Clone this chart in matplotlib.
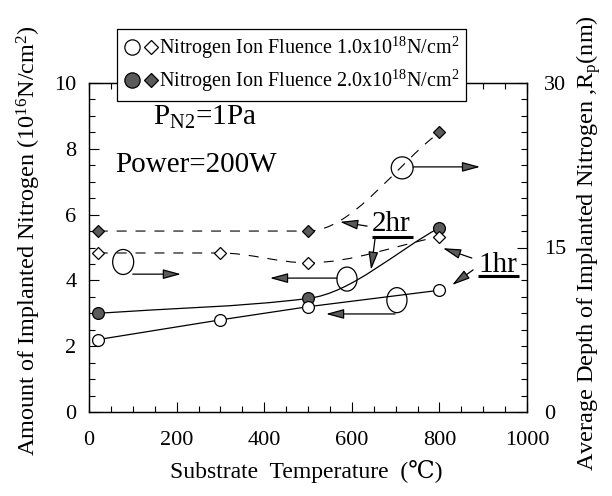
import numpy as np
import matplotlib
matplotlib.use('Agg')
import matplotlib.pyplot as plt
from matplotlib.path import Path
from matplotlib.patches import PathPatch, Ellipse
from matplotlib.legend_handler import HandlerTuple
from matplotlib.lines import Line2D

plt.rcParams['font.family'] = ['Liberation Serif', 'DejaVu Serif']
plt.rcParams['mathtext.fontset'] = 'custom'
plt.rcParams['mathtext.rm'] = 'Liberation Serif'
plt.rcParams['mathtext.default'] = 'rm'

# data: substrate temperature (C)
temp_1hr = [20, 300, 500, 800]
amount_1hr = [2.2, 2.8, 3.2, 3.7]          # open circles, left axis
depth_1hr = [14.5, 14.5, 13.6, 16.0]       # open diamonds, right axis (nm)

temp_2hr = [20, 500, 800]
amount_2hr = [3.0, 3.45, 5.6]              # filled circles
depth_2hr = [16.5, 16.5, 25.5]             # filled diamonds

gray = '#5a5a5a'


def smooth_path(x, y):
    # monotone cubic through the data points, drawn as bezier segments
    x = np.asarray(x, float)
    y = np.asarray(y, float)
    s = np.diff(y) / np.diff(x)
    m = np.zeros(len(x))
    m[0], m[-1] = s[0], s[-1]
    for i in range(1, len(x) - 1):
        if s[i - 1] * s[i] > 0:
            m[i] = 2 / (1 / s[i - 1] + 1 / s[i])
    verts = [(x[0], y[0])]
    codes = [Path.MOVETO]
    for i in range(len(x) - 1):
        h = x[i + 1] - x[i]
        verts += [(x[i] + h / 3, y[i] + m[i] * h / 3),
                  (x[i + 1] - h / 3, y[i + 1] - m[i + 1] * h / 3),
                  (x[i + 1], y[i + 1])]
        codes += [Path.CURVE4] * 3
    return Path(verts, codes)


fig = plt.figure(figsize=(6.12, 4.96), dpi=100)
ax = fig.add_axes([89 / 612, 84 / 496, 438 / 612, 329 / 496])
ax2 = ax.twinx()

ax.set_xlim(0, 1000)
ax.set_ylim(0, 10)
ax2.set_ylim(0, 30)
ax.set_xticks(np.arange(0, 1001, 200))
ax.set_xticks(np.arange(0, 1001, 50), minor=True)
ax.set_yticks(np.arange(0, 11, 2))
ax.set_yticks(np.arange(0, 10.1, 0.5), minor=True)
ax2.set_yticks([0, 15, 30])
ax2.set_yticks(np.arange(0, 30.1, 1.5), minor=True)
ax.tick_params(which='both', direction='in', top=True, labelsize=16, width=0.8)
ax.tick_params(axis='x', pad=14)
ax.tick_params(axis='y', pad=9)
ax.tick_params(which='major', length=7)
ax.tick_params(which='minor', length=4)
ax2.tick_params(which='both', direction='in', labelsize=16, width=0.8, pad=12)
ax2.tick_params(which='major', length=7)
ax2.tick_params(which='minor', length=4)
for a in (ax, ax2):
    for sp in a.spines.values():
        sp.set_linewidth(0.9)

# amount lines (left axis)
ax.plot(temp_1hr, amount_1hr, color='black', lw=0.9, zorder=2)
ax.add_patch(PathPatch(smooth_path(temp_2hr, amount_2hr), fill=False, ec='black', lw=0.9, zorder=2))
ax.plot(temp_2hr, amount_2hr, 'o', ms=8.5, mfc=gray, mec='black', mew=0.9, zorder=4)
ax.plot(temp_1hr, amount_1hr, 'o', ms=8.5, mfc='white', mec='black', mew=0.9, zorder=5)

# depth lines (right axis)
ax2.add_patch(PathPatch(smooth_path(temp_1hr, depth_1hr), fill=False, ec='black', lw=0.8,
                        ls=(0, (9, 8)), zorder=2))
ax2.add_patch(PathPatch(smooth_path(temp_2hr, depth_2hr), fill=False, ec='black', lw=0.8,
                        ls=(0, (9, 8)), zorder=2))
ax2.plot(temp_2hr, depth_2hr, 'D', ms=6, mfc=gray, mec='black', mew=0.9, zorder=4)
ax2.plot(temp_1hr, depth_1hr, 'D', ms=6, mfc='white', mec='black', mew=0.9, zorder=5)

# annotation ellipses and arrows (left axis units)
for cx, cy, w, h in [(78, 4.56, 48, 0.76), (589, 4.04, 46, 0.73),
                     (703, 3.40, 46, 0.76), (715, 7.42, 50, 0.67)]:
    ax2.add_patch(Ellipse((cx, cy * 3), w, h * 3, fill=False, ec='black', lw=0.9, zorder=6))

arrow = dict(arrowstyle='-|>,head_length=1.1,head_width=0.3', fc=gray, ec='black', lw=0.9,
             shrinkA=0, shrinkB=0)
arrows = [((100, 4.19), (210, 4.19)), ((566, 4.07), (413, 4.07)),
          ((699, 2.98), (541, 2.98)), ((740, 7.45), (893, 7.45)),
          ((635, 5.65), (573, 5.78)), ((653, 5.26), (644, 4.32)),
          ((874, 4.68), (808, 4.98)), ((877, 4.32), (829, 3.86))]
for start, end in arrows:
    ax2.annotate('', xy=(end[0], end[1] * 3), xytext=(start[0], start[1] * 3), arrowprops=arrow)

ax.text(646, 5.5, '2hr', fontsize=21, zorder=7)
ax.plot([646, 740], [5.32, 5.32], color='black', lw=2.2, solid_capstyle='butt')
ax.text(888, 4.26, '1hr', fontsize=21, zorder=7)
ax.plot([888, 982], [4.12, 4.12], color='black', lw=2.2, solid_capstyle='butt', clip_on=False)

ax.text(146, 8.72, 'P$_{\\rm N2}$=1Pa', fontsize=21)
ax.text(59, 7.3, 'Power=200W', fontsize=21)

# legend
h1 = (Line2D([], [], ls='none', marker='o', ms=11, mfc='white', mec='black', mew=0.9),
      Line2D([], [], ls='none', marker='D', ms=7.5, mfc='white', mec='black', mew=0.9))
h2 = (Line2D([], [], ls='none', marker='o', ms=11, mfc=gray, mec='black', mew=0.9),
      Line2D([], [], ls='none', marker='D', ms=7.5, mfc=gray, mec='black', mew=0.9))
leg = fig.legend([h1, h2],
                 ['Nitrogen Ion Fluence 1.0x10$^{18}$N/cm$^2$',
                  'Nitrogen Ion Fluence 2.0x10$^{18}$N/cm$^2$'],
                 handler_map={tuple: HandlerTuple(ndivide=None, pad=0.1)},
                 loc='upper left', bbox_to_anchor=(117 / 612, 1 - 29 / 496),
                 fontsize=14.5, frameon=True, fancybox=False, edgecolor='black',
                 framealpha=1, borderpad=0.3, handlelength=1.8, handletextpad=0.0,
                 labelspacing=0.35, borderaxespad=0)
leg.get_frame().set_linewidth(0.9)
leg.set_zorder(10)

fig.text(0.048, 0.515, 'Amount of Implanted Nitrogen (10$^{16}$N/cm$^2$)',
         rotation=90, ha='center', va='center', fontsize=17.5)
fig.text(0.962, 0.51, 'Average Depth of Implanted Nitrogen ,R$_{\\rm p}$(nm)',
         rotation=90, ha='center', va='center', fontsize=17.5)
fig.text(0.5, 0.05, 'Substrate  Temperature  (\u2103)', ha='center', va='center', fontsize=17)

fig.savefig('out.png', dpi=100)
